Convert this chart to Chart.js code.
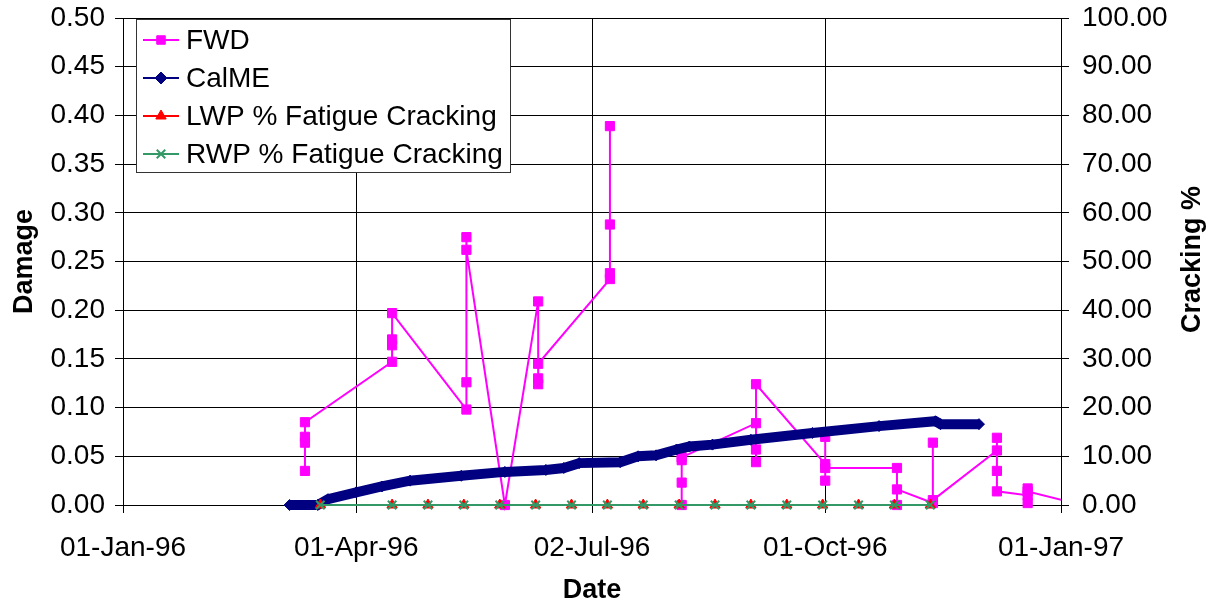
<!DOCTYPE html>
<html>
<head>
<meta charset="utf-8">
<title>Damage and Cracking vs Date</title>
<script src="https://cdn.jsdelivr.net/npm/chart.js@4.4.1/dist/chart.umd.min.js"></script>
<style>
  body { margin: 0; background: #fff; }
  #wrap { position: relative; width: 1219px; height: 606px; }
</style>
</head>
<body>
<div id="wrap"><canvas id="chart"></canvas></div>
<script>
// x axis runs over calendar dates, the chart works in days since axisStart
const axisStart = "1996-01-01";
const axisEnd = "1997-01-01";
const xTickDates = ["1996-01-01", "1996-04-01", "1996-07-02", "1996-10-01", "1997-01-01"];

// FWD damage, several drops per test date (null = break in the line)
const fwdDates = [
    "1996-03-12", "1996-03-12", "1996-03-12", "1996-03-12",
    "1996-04-15", "1996-04-15", "1996-04-15", "1996-04-15",
    "1996-05-14", "1996-05-14", "1996-05-14", "1996-05-14",
    "1996-05-29",
    "1996-06-11", "1996-06-11", "1996-06-11", "1996-06-11",
    "1996-07-09", "1996-07-09", "1996-07-09", "1996-07-09",
    "1996-07-23",
    "1996-08-06", "1996-08-06", "1996-08-06", "1996-08-06",
    "1996-09-04", "1996-09-04", "1996-09-04", "1996-09-04",
    "1996-10-01", "1996-10-01", "1996-10-01", "1996-10-01",
    "1996-10-29", "1996-10-29", "1996-10-29",
    "1996-11-12", "1996-11-12", "1996-11-12",
    "1996-12-07", "1996-12-07", "1996-12-07", "1996-12-07",
    "1996-12-19", "1996-12-19", "1996-12-19", "1996-12-19",
    "1997-01-09"
];
const fwdDamage = [
    0.035, 0.064, 0.070, 0.085,
    0.147, 0.164, 0.170, 0.197,
    0.098, 0.126, 0.275, 0.262,
    0.000,
    0.209, 0.124, 0.130, 0.145,
    0.232, 0.238, 0.288, 0.389,
    null,
    0.000, 0.023, 0.046, 0.049,
    0.084, 0.044, 0.057, 0.124,
    0.042, 0.070, 0.025, 0.038,
    0.038, 0.000, 0.016,
    0.002, 0.064, 0.005,
    0.056, 0.069, 0.035, 0.014,
    0.010, 0.002, 0.017, 0.014,
    0.000
];

// CalME damage
const calmeDates = [
    "1996-03-06", "1996-03-17", "1996-03-21", "1996-04-01", "1996-04-11",
    "1996-04-22", "1996-05-12", "1996-05-29", "1996-06-14", "1996-06-21",
    "1996-06-27", "1996-07-13", "1996-07-20", "1996-07-27", "1996-08-04",
    "1996-08-09", "1996-08-18", "1996-09-02", "1996-09-26", "1996-10-22",
    "1996-11-13", "1996-11-15", "1996-11-30"
];
const calmeDamage = [
    0.000, 0.000, 0.006, 0.013, 0.019,
    0.025, 0.030, 0.034, 0.036, 0.038,
    0.043, 0.044, 0.050, 0.051, 0.057,
    0.060, 0.062, 0.067, 0.074, 0.081,
    0.086, 0.083, 0.083
];

// crack surveys, % fatigue cracking per wheel path
const crackDates = [
    "1996-03-18", "1996-04-15", "1996-04-29", "1996-05-13", "1996-05-27",
    "1996-06-10", "1996-06-24", "1996-07-08", "1996-07-22", "1996-08-05",
    "1996-08-19", "1996-09-02", "1996-09-16", "1996-09-30", "1996-10-14",
    "1996-10-28", "1996-11-11"
];
const lwpCracking = [0, 0, 0, 0, 0, 0, 0, 0, 0, 0, 0, 0, 0, 0, 0, 0, 0];
const rwpCracking = [0, 0, 0, 0, 0, 0, 0, 0, 0, 0, 0, 0, 0, 0, 0, 0, 0];

const MONTHS = ["Jan", "Feb", "Mar", "Apr", "May", "Jun", "Jul", "Aug", "Sep", "Oct", "Nov", "Dec"];
const FONT = "'Liberation Sans', Arial, sans-serif";

function dayNum(s) {
    return Math.round((Date.parse(s) - Date.parse(axisStart)) / 864e5);
}

function fmtDate(day) {
    const d = new Date(Date.parse(axisStart) + day * 864e5);
    const dd = String(d.getUTCDate()).padStart(2, "0");
    return dd + "-" + MONTHS[d.getUTCMonth()] + "-" + String(d.getUTCFullYear()).slice(2);
}

function points(dates, values) {
    return dates.map((d, i) => ({ x: dayNum(d), y: values[i] }));
}

// pin the plot area: ignore the half-label overhang of the value axes
function fixWidth(w) {
    return (scale) => {
        scale.width = w;
        scale.paddingTop = 0;
        scale.paddingBottom = 0;
    };
}

// Excel style legend (line with marker) + right axis title reading upwards
const excelBits = {
    id: "excelBits",
    afterDraw(chart) {
        const ctx = chart.ctx;
        const area = chart.chartArea;
        const bx = area.left + 13, by = area.top + 1, bw = 374, bh = 153;

        ctx.save();
        ctx.fillStyle = "#fff";
        ctx.fillRect(bx, by, bw, bh);
        ctx.strokeStyle = "#333";
        ctx.lineWidth = 1;
        ctx.strokeRect(bx + 0.5, by + 0.5, bw, bh);

        ctx.font = "28px " + FONT;
        ctx.textBaseline = "middle";
        chart.data.datasets.forEach((ds, i) => {
            const y = by + 21 + i * 38;
            ctx.strokeStyle = ds.borderColor;
            ctx.lineWidth = 2;
            ctx.beginPath();
            ctx.moveTo(bx + 7, y);
            ctx.lineTo(bx + 43, y);
            ctx.stroke();
            ctx.fillStyle = ds.pointBackgroundColor;
            ctx.strokeStyle = ds.pointBorderColor;
            ctx.lineWidth = ds.pointStyle === "crossRot" ? 2 : 1;
            Chart.helpers.drawPoint(ctx, { pointStyle: ds.pointStyle, rotation: 0, radius: 6, borderWidth: ctx.lineWidth }, bx + 25, y);
            ctx.fillStyle = "#000";
            ctx.fillText(ds.label, bx + 50, y + 1);
        });

        const yr = chart.scales.y1;
        ctx.translate(1193, (area.top + area.bottom) / 2 - 2);
        ctx.rotate(-Math.PI / 2);
        ctx.font = "bold 27px " + FONT;
        ctx.textAlign = "center";
        ctx.fillStyle = "#000";
        ctx.fillText(yr.options.titleText, 0, 0);
        ctx.restore();
    }
};

new Chart(document.getElementById("chart"), {
    type: "line",
    data: {
        datasets: [
            {
                label: "FWD",
                data: points(fwdDates, fwdDamage),
                yAxisID: "y",
                borderColor: "#FF00FF",
                backgroundColor: "#FF00FF",
                pointBackgroundColor: "#FF00FF",
                pointBorderColor: "#FF00FF",
                borderWidth: 2,
                pointStyle: "rect",
                pointRadius: 6.5,
                pointBorderWidth: 1,
                spanGaps: false,
                clip: { left: 10, top: 10, bottom: 10, right: 0 },
                order: 3
            },
            {
                label: "CalME",
                data: points(calmeDates, calmeDamage),
                yAxisID: "y",
                borderColor: "#000080",
                backgroundColor: "#000080",
                pointBackgroundColor: "#000080",
                pointBorderColor: "#000080",
                borderWidth: 10,
                pointStyle: "rectRot",
                pointRadius: 5.5,
                pointBorderWidth: 1,
                clip: false,
                order: 2
            },
            {
                label: "LWP % Fatigue Cracking",
                data: points(crackDates, lwpCracking),
                yAxisID: "y1",
                borderColor: "#FF0000",
                backgroundColor: "#FF0000",
                pointBackgroundColor: "#FF0000",
                pointBorderColor: "#FF0000",
                borderWidth: 2,
                pointStyle: "triangle",
                pointRadius: 6,
                pointBorderWidth: 1,
                clip: false,
                order: 1
            },
            {
                label: "RWP % Fatigue Cracking",
                data: points(crackDates, rwpCracking),
                yAxisID: "y1",
                borderColor: "#339966",
                backgroundColor: "#339966",
                pointBackgroundColor: "#339966",
                pointBorderColor: "#339966",
                borderWidth: 2,
                pointStyle: "crossRot",
                pointRadius: 6,
                pointBorderWidth: 2,
                clip: false,
                order: 0
            }
        ]
    },
    options: {
        responsive: true,
        maintainAspectRatio: false,
        animation: false,
        layout: { padding: { top: 18, left: 0, right: 0, bottom: 0 } },
        elements: { line: { tension: 0 } },
        plugins: {
            legend: { display: false },
            tooltip: { enabled: false }
        },
        scales: {
            x: {
                type: "linear",
                min: dayNum(axisStart),
                max: dayNum(axisEnd),
                afterBuildTicks: (scale) => {
                    scale.ticks = xTickDates.map(d => ({ value: dayNum(d) }));
                },
                afterFit: (scale) => {
                    scale.height = 101;
                    scale.paddingLeft = 0;
                    scale.paddingRight = 0;
                },
                ticks: {
                    color: "#000",
                    font: { family: FONT, size: 28 },
                    padding: 18,
                    maxRotation: 0,
                    autoSkip: false,
                    callback: (v) => fmtDate(v)
                },
                grid: { color: "#000", tickLength: 8, tickColor: "#000" },
                border: { color: "#000" },
                title: {
                    display: true,
                    text: "Date",
                    color: "#000",
                    font: { family: FONT, size: 27, weight: "bold", lineHeight: 1 },
                    padding: { top: 0, bottom: 2 }
                }
            },
            y: {
                position: "left",
                min: 0,
                max: 0.5,
                afterFit: fixWidth(123),
                ticks: {
                    stepSize: 0.05,
                    color: "#000",
                    font: { family: FONT, size: 28 },
                    padding: 10,
                    callback: (v) => v.toFixed(2)
                },
                grid: { color: "#000", tickLength: 8, tickColor: "#000" },
                border: { color: "#000" },
                title: {
                    display: true,
                    text: "Damage",
                    color: "#000",
                    font: { family: FONT, size: 27, weight: "bold", lineHeight: 1 },
                    padding: { top: 11, bottom: 0 }
                }
            },
            y1: {
                position: "right",
                min: 0,
                max: 100,
                titleText: "Cracking %",
                afterFit: fixWidth(158),
                ticks: {
                    stepSize: 10,
                    color: "#000",
                    font: { family: FONT, size: 28 },
                    padding: 13,
                    callback: (v) => v.toFixed(2)
                },
                grid: { drawOnChartArea: false, tickLength: 8, tickColor: "#000" },
                border: { color: "#000" }
            }
        }
    },
    plugins: [excelBits]
});
</script>
</body>
</html>
